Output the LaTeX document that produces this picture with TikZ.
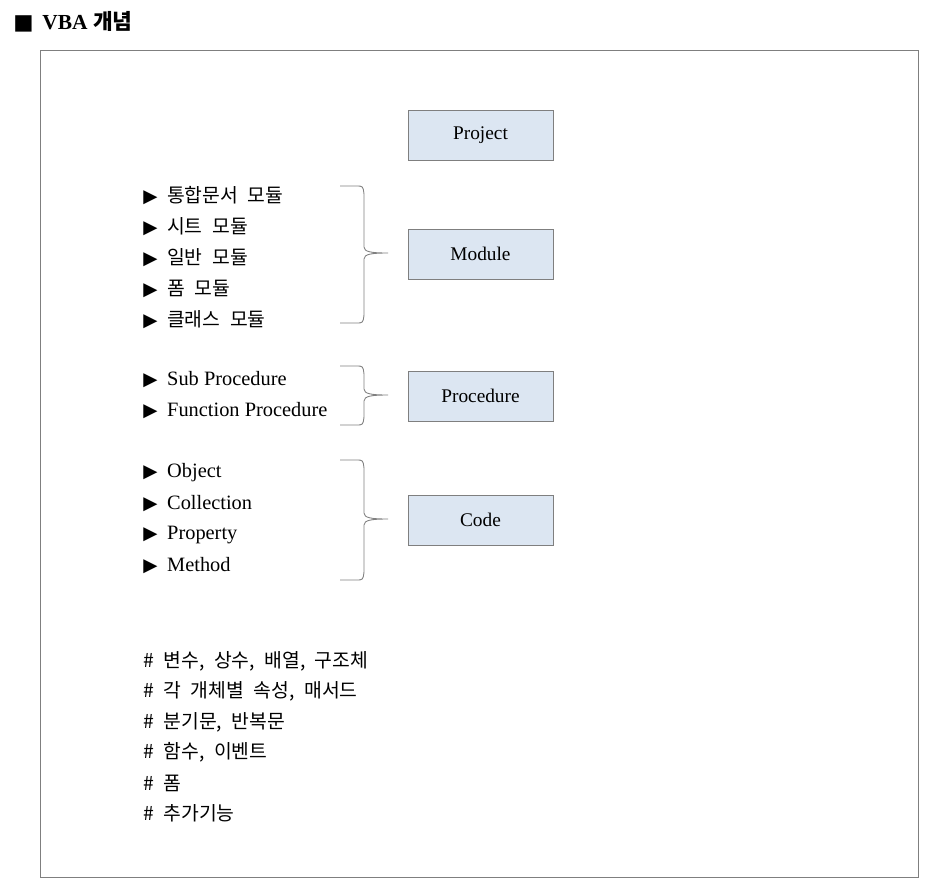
\documentclass[tikz,border=0pt]{standalone}
\usepackage{fontspec}
\setmainfont{Liberation Serif}
\newfontfamily\kor[WordSpace=2.2]{Noto Sans CJK KR}
\newfontfamily\symf{DejaVu Sans}
\definecolor{boxblue}{HTML}{DCE6F2}
\definecolor{linegray}{HTML}{7F7F7F}
\newcommand{\tri}{{\symf\fontsize{10.5}{12}\selectfont ▶}\hspace{5.5pt}}
% curly bracket: top, tip and bottom heights
\newcommand{\curly}[3]{%
  \draw[brc] (340,#1) -- (356,#1) .. controls (363,#1) .. (364,#1+8)
    -- (364,#2-6) .. controls (364,#2-1) and (372,#2) .. (388,#2)
    .. controls (372,#2) and (364,#2+1) .. (364,#2+6)
    -- (364,#3-8) .. controls (363,#3) .. (356,#3) -- (340,#3);}

\tikzset{
  box/.style={draw=linegray, fill=boxblue, minimum width=2.9cm, minimum height=1cm,
    font=\fontsize{11}{13}\selectfont},
  itemk/.style={anchor=west, inner sep=0pt, font=\kor\fontsize{11}{13}\selectfont},
  iteme/.style={anchor=west, inner sep=0pt, font=\fontsize{11.6}{13}\selectfont},
  brc/.style={draw=linegray, line width=0.5pt}
}

\begin{document}
\begin{tikzpicture}[x=0.02cm, y=-0.02cm]
\useasboundingbox (0,0) rectangle (938,894);

% title and frame
\node[anchor=west, inner sep=0pt, font=\fontsize{12.2}{14}\selectfont] (title) at (13,22)
  {{\symf ■}\hspace{5pt}\textbf{VBA} {\kor\bfseries 개념}};
\draw[linegray] (40,50) rectangle (918,877);

% boxes
\node[box] (prj) at (480.5,135) {Project};
\node[box] (mdl) at (480.5,254) {Module};
\node[box] (prc) at (480.5,396) {Procedure};
\node[box] (cde) at (480.5,520) {Code};

% module list
\node[itemk] (m1) at (143,196) {\tri 통합문서 모듈};
\node[itemk] (m2) at (143,227) {\tri 시트 모듈};
\node[itemk] (m3) at (143,258) {\tri 일반 모듈};
\node[itemk] (m4) at (143,289) {\tri 폼 모듈};
\node[itemk] (m5) at (143,320) {\tri 클래스 모듈};

% procedure list
\node[iteme] (p1) at (143,380) {\tri Sub Procedure};
\node[iteme] (p2) at (143,411) {\tri Function Procedure};

% code list
\node[iteme] (c1) at (143,473) {\tri Object};
\node[iteme] (c2) at (143,504) {\tri Collection};
\node[iteme] (c3) at (143,535) {\tri Property};
\node[iteme] (c4) at (143,566) {\tri Method};

% braces
\curly{186}{253}{323}
\curly{366}{395}{425}
\curly{460}{519}{580}

% notes
\node[itemk] (h1) at (143,661) {\# 변수, 상수, 배열, 구조체};
\node[itemk] (h2) at (143,691) {\# 각 개체별 속성, 매서드};
\node[itemk] (h3) at (143,722) {\# 분기문, 반복문};
\node[itemk] (h4) at (143,752) {\# 함수, 이벤트};
\node[itemk] (h5) at (143,783) {\# 폼};
\node[itemk] (h6) at (143,813) {\# 추가기능};
\end{tikzpicture}
\end{document}
